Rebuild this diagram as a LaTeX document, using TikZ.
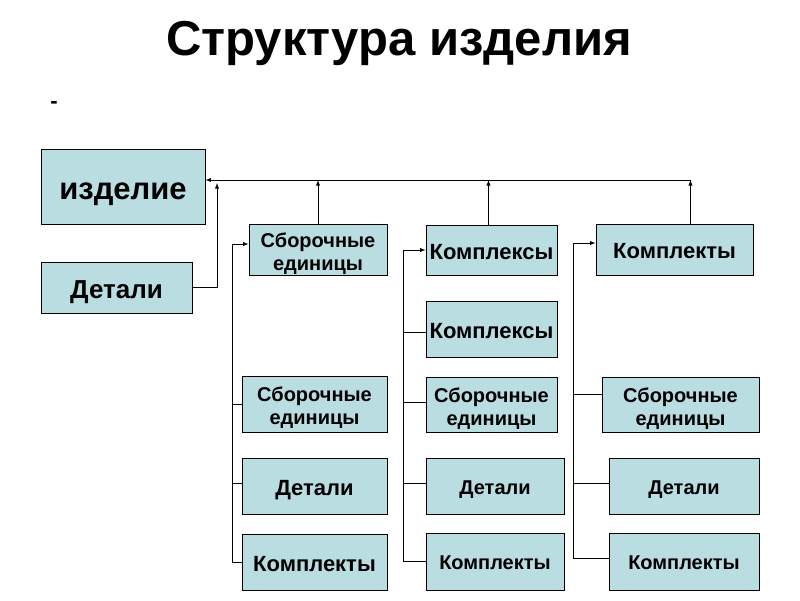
\documentclass[tikz,border=0pt]{standalone}
\usepackage{fontspec}
\setmainfont{Liberation Sans}
\usetikzlibrary{arrows,positioning,calc}
\definecolor{partblue}{RGB}{186,221,225}

\begin{document}
\begin{tikzpicture}[x=1pt, y=-1pt,
    part/.style={draw, fill=partblue, line width=0.9pt, inner sep=0pt, align=center,
        text height=16.8pt, text depth=0pt, font=\bfseries\fontsize{20}{23}\selectfont},
    big/.style={text height=18.5pt, font=\bfseries\fontsize{22}{25}\selectfont},
    twoline/.style={text height=45pt, text depth=4pt},
    link/.style={line width=0.9pt},
    arr/.style={link, -latex}]
    \useasboundingbox (0,0) rectangle (800,600);
    % title
    \node[anchor=base, font=\bfseries\fontsize{49}{52}\selectfont] (title) at (399,55) {Структура изделия};
    \node[font=\bfseries\fontsize{22}{22}\selectfont] (dash) at (54,105) {-};
    % left blocks
    \node[part, minimum width=164, minimum height=75, text height=26pt, font=\bfseries\fontsize{31}{34}\selectfont] (izd) at (123,186.5) {изделие};
    \node[part, minimum width=151, minimum height=51, text height=21.8pt, font=\bfseries\fontsize{26}{29}\selectfont] (det) at (116.5,287.5) {Детали};
    % top row
    \node[part, twoline, minimum width=138, minimum height=51] (sb) at (318,249.5) {Сборочные\\единицы};
    \node[part, big, minimum width=131, minimum height=50] (kx) at (491.5,250) {Комплексы};
    \node[part, big, minimum width=157, minimum height=51] (kt) at (674.5,249.5) {Комплекты};
    % column 1
    \node[part, twoline, minimum width=145, minimum height=56] (sbS) at (314.5,404) {Сборочные\\единицы};
    \node[part, big, minimum width=145, minimum height=56] (sbD) at (314.5,486) {Детали};
    \node[part, big, minimum width=145, minimum height=56] (sbK) at (314.5,562) {Комплекты};
    % column 2
    \node[part, big, minimum width=131, minimum height=56] (kxX) at (491.5,329) {Комплексы};
    \node[part, twoline, minimum width=131, minimum height=55] (kxS) at (491.5,404.5) {Сборочные\\единицы};
    \node[part, minimum width=138, minimum height=56] (kxD) at (495,486) {Детали};
    \node[part, minimum width=138, minimum height=57] (kxK) at (495,561.5) {Комплекты};
    % column 3
    \node[part, twoline, minimum width=157, minimum height=55] (ktS) at (680.5,404.5) {Сборочные\\единицы};
    \node[part, minimum width=150, minimum height=56] (ktD) at (684,486) {Детали};
    \node[part, minimum width=150, minimum height=57] (ktK) at (684,561.5) {Комплекты};
    % rails
    \coordinate (bus) at (0,180);
    \coordinate (rail0) at (217,183);
    \coordinate (rail1) at (232,244);
    \coordinate (rail2) at (403,250);
    \coordinate (rail3) at (573,243);
    % links up to the product
    \draw[arr] ([xshift=16pt]kt.north) -- ([xshift=16pt]kt.north |- bus);
    \draw[arr] ([xshift=16pt]kt.north |- bus) -- (izd.east |- bus);
    \draw[arr] ([xshift=-3pt]kx.north) -- ([xshift=-3pt]kx.north |- bus);
    \draw[arr] (sb.north) -- (sb.north |- bus);
    \draw[arr] (det.east) -| (rail0);
    % column 1
    \draw[arr] (sbK.west) -| (rail1) -- (rail1 -| sb.west);
    \draw[link] (sbS.west) -- (sbS.west -| rail1);
    \draw[link] ([yshift=3pt]sbD.west) -- ([yshift=3pt]sbD.west -| rail1);
    % column 2
    \draw[arr] (kxK.west) -| (rail2) -- (kx.west);
    \draw[link] ([yshift=-3pt]kxX.west) -- ([yshift=-3pt]kxX.west -| rail2);
    \draw[link] ([yshift=2pt]kxS.west) -- ([yshift=2pt]kxS.west -| rail2);
    \draw[link] ([yshift=3pt]kxD.west) -- ([yshift=3pt]kxD.west -| rail2);
    % column 3
    \draw[arr] ([yshift=3pt]ktK.west) -| (rail3) -- (rail3 -| kt.west);
    \draw[link] ([yshift=10pt]ktS.west) -- ([yshift=10pt]ktS.west -| rail3);
    \draw[link] ([yshift=3pt]ktD.west) -- ([yshift=3pt]ktD.west -| rail3);
\end{tikzpicture}
\end{document}
